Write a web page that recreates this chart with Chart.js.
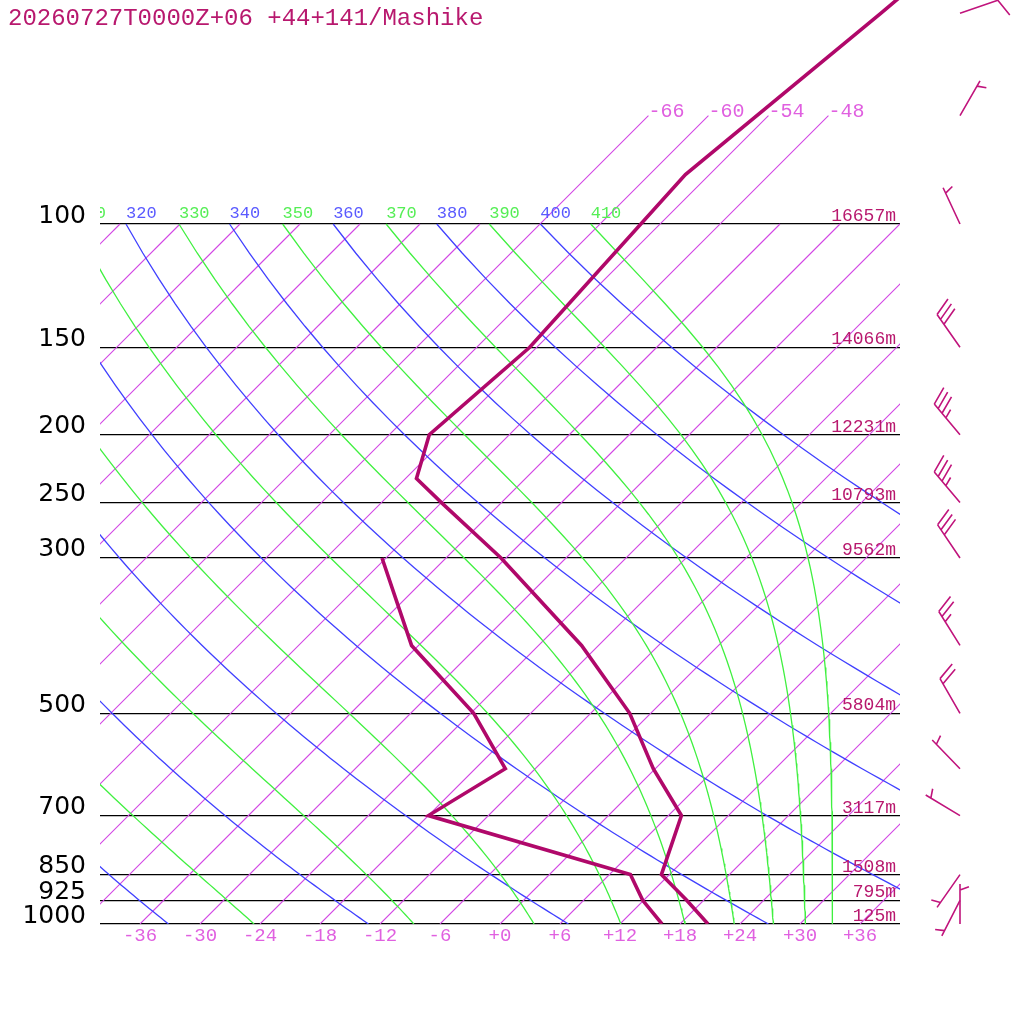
<!DOCTYPE html>
<html><head><meta charset="utf-8">
<script src="https://cdn.jsdelivr.net/npm/chart.js@4/dist/chart.umd.min.js"></script>
<style>html,body{margin:0;padding:0;background:#fff;overflow:hidden;} canvas{display:block;}</style>
</head><body>
<canvas id="c" width="1024" height="1024"></canvas>
<script>
// ---------------- data ----------------
const TITLE = '20260727T0000Z+06 +44+141/Mashike';
const TEMP_LEVELS = [1000, 925, 850, 700, 600, 500, 400, 300, 250, 231, 200, 150, 85, 50, 30];
const TEMPERATURE = [20.8, 16.3, 11.2, 7.3, -0.2, -8.1, -19.7, -36.5, -48.0, -52.9, -56.0, -54.7, -56.4, -53.0, -50.0];
const DEW_LEVELS = [1000, 925, 850, 700, 600, 500, 400, 300];
const DEWPOINT = [16.2, 11.9, 8.1, -18.0, -15.0, -23.7, -36.7, -48.4];
const WIND_LEVELS = [1000, 925, 850, 700, 600, 500, 400, 300, 250, 200, 150, 100, 70, 50];
const WIND_DIR = [0, 207, 215, 301, 316, 330, 328, 326, 320, 320, 325, 335, 30, 71];
const WIND_SPEED = [5, 5, 5, 5, 5, 20, 25, 30, 35, 35, 30, 5, 5, 10];
const PRESSURE_TICKS = [100, 150, 200, 250, 300, 500, 700, 850, 925, 1000];
const HEIGHT_LEVELS = [100, 150, 200, 250, 300, 500, 700, 850, 925, 1000];
const HEIGHTS = [16657, 14066, 12231, 10793, 9562, 5804, 3117, 1508, 795, 125];
const TEMP_TICKS = [-36, -30, -24, -18, -12, -6, 0, 6, 12, 18, 24, 30, 36];
const ISOTHERMS = [-108, -102, -96, -90, -84, -78, -72, -66, -60, -54, -48, -42, -36, -30, -24, -18, -12, -6, 0, 6, 12, 18, 24, 30, 36];
const UPPER_ISOTHERMS = [-66, -60, -54, -48];
const THETA = [220, 240, 260, 280, 300, 320, 340, 360, 380, 400];
const THETA_E = [250, 270, 290, 310, 330, 350, 370, 390, 410];

// ---------------- diagram geometry ----------------
const SKEW = 70;            // degC of skew per decade of pressure
const P_BOTTOM = 1000, P_TOP_GRID = 100, P_UPPER = 70;
const P_CANVAS_TOP = 1000 / Math.pow(10, 924 / 700);
const skewX = (T, p) => T + SKEW * Math.log10(1000 / p);

const COL_PROFILE = 'rgb(176,8,106)';
const COL_ISO = 'rgb(210,70,228)';
const COL_DRY = 'rgb(64,64,255)';
const COL_MOIST = 'rgb(64,240,64)';
const COL_TEXT = 'rgb(184,24,110)';
const COL_TICK = 'rgb(224,96,224)';

// reference-curve pressure grid
const P_GRID = [];
for (let p = 100; p <= 1000; p += 10) P_GRID.push(p);

function esat(Tc) { return 6.112 * Math.exp(17.67 * Tc / (Tc + 243.5)); }
function thetaESat(Tc, p) {
  const TK = Tc + 273.15, e = esat(Tc);
  if (e >= 0.5 * p) return Infinity;
  const r = 622 * e / (p - e);
  return TK * Math.pow(1000 / p, 0.2854 * (1 - 0.00028 * r)) * Math.exp((3.376 / TK - 0.00254) * r * (1 + 0.00081 * r));
}
function moistT(thE, p) {
  let lo = -170, hi = 60;
  for (let i = 0; i < 60; i++) {
    const mid = (lo + hi) / 2;
    if (thetaESat(mid, p) > thE) hi = mid; else lo = mid;
  }
  return (lo + hi) / 2;
}
function dryT(th, p) { return th * Math.pow(p / 1000, 0.2857) - 273.15; }

function lineSet(points, color, width) {
  return {
    type: 'line', data: points, parsing: false,
    borderColor: color, backgroundColor: color, borderWidth: width,
    pointRadius: 0, pointHoverRadius: 0, fill: false, tension: 0, showLine: true
  };
}

const datasets = [];
datasets.push(lineSet(TEMP_LEVELS.map((p, i) => ({x: skewX(TEMPERATURE[i], p), y: p})), COL_PROFILE, 3.6));
datasets.push(lineSet(DEW_LEVELS.map((p, i) => ({x: skewX(DEWPOINT[i], p), y: p})), COL_PROFILE, 3.6));
THETA_E.forEach(th => datasets.push(lineSet(P_GRID.map(p => ({x: skewX(moistT(th, p), p), y: p})), COL_MOIST, 1.3)));
THETA.forEach(th => datasets.push(lineSet(P_GRID.map(p => ({x: skewX(dryT(th, p), p), y: p})), COL_DRY, 1.3)));
ISOTHERMS.forEach(T => {
  const top = UPPER_ISOTHERMS.includes(T) ? P_UPPER : P_TOP_GRID;
  datasets.push(lineSet([{x: skewX(T, P_BOTTOM), y: P_BOTTOM}, {x: skewX(T, top), y: top}], COL_ISO, 1.1));
});

function drawBarb(ctx, x0, y0, dirDeg, spd) {
  const a = dirDeg * Math.PI / 180;
  const dx = Math.sin(a), dy = -Math.cos(a);
  const L = 40;
  const tx = x0 + dx * L, ty = y0 + dy * L;
  const fx = -dy, fy = dx;
  const ca = Math.cos(20 * Math.PI / 180), sa = Math.sin(20 * Math.PI / 180);
  ctx.beginPath();
  ctx.moveTo(x0, y0); ctx.lineTo(tx, ty);
  const n10 = Math.floor(spd / 10);
  const n5 = (spd - n10 * 10) >= 5 ? 1 : 0;
  let pos = 0;
  const FL = 19, SP = 6;
  for (let i = 0; i < n10; i++) {
    const sx = tx - dx * pos, sy = ty - dy * pos;
    ctx.moveTo(sx, sy);
    ctx.lineTo(sx + (fx * ca + dx * sa) * FL, sy + (fy * ca + dy * sa) * FL);
    pos += SP;
  }
  if (n5) {
    if (n10 === 0) pos = 6;
    const sx = tx - dx * pos, sy = ty - dy * pos;
    const hl = FL / 2;
    ctx.moveTo(sx, sy);
    ctx.lineTo(sx + (fx * ca + dx * sa) * hl, sy + (fy * ca + dy * sa) * hl);
  }
  ctx.stroke();
}

const overlay = {
  id: 'overlay',
  afterDraw(chart) {
    const {ctx, chartArea: ca, scales: {x, y}} = chart;
    ctx.save();
    ctx.font = '24px "Liberation Mono"';
    ctx.fillStyle = COL_TEXT; ctx.textAlign = 'left'; ctx.textBaseline = 'alphabetic';
    ctx.fillText(TITLE, 8, 25);

    ctx.save();
    ctx.beginPath(); ctx.rect(ca.left, 0, ca.right - ca.left, ca.bottom); ctx.clip();
    ctx.font = '17px "Liberation Mono"';
    const y100 = y.getPixelForValue(P_TOP_GRID) - 6;
    const labels = [];
    THETA.forEach(th => labels.push({th, T: dryT(th, P_TOP_GRID), c: 'rgb(90,90,255)'}));
    THETA_E.forEach(th => labels.push({th, T: moistT(th, P_TOP_GRID), c: 'rgb(85,238,85)'}));
    labels.forEach(l => {
      ctx.fillStyle = l.c;
      ctx.fillText(String(l.th), x.getPixelForValue(skewX(l.T, P_TOP_GRID)), y100);
    });
    ctx.restore();

    ctx.font = '20px "Liberation Mono"';
    ctx.fillStyle = COL_TICK; ctx.textAlign = 'left';
    UPPER_ISOTHERMS.forEach(T => {
      ctx.fillText(String(T), x.getPixelForValue(skewX(T, P_UPPER)), y.getPixelForValue(P_UPPER) + 1);
    });

    ctx.font = '18px "Liberation Mono"';
    ctx.fillStyle = COL_TEXT; ctx.textAlign = 'right';
    HEIGHT_LEVELS.forEach((p, i) => {
      ctx.fillText(HEIGHTS[i] + 'm', ca.right - 4, y.getPixelForValue(p) - 3);
    });

    ctx.strokeStyle = 'rgb(192,20,124)'; ctx.lineWidth = 1.6; ctx.lineCap = 'butt';
    WIND_LEVELS.forEach((p, i) => {
      drawBarb(ctx, ca.right + 60, y.getPixelForValue(p), WIND_DIR[i], WIND_SPEED[i]);
    });
    ctx.restore();
  }
};

new Chart(document.getElementById('c'), {
  type: 'line',
  data: {datasets},
  options: {
    responsive: false, animation: false, events: [],
    layout: {padding: {left: 0, right: 124, top: 0, bottom: 0}},
    plugins: {legend: {display: false}, tooltip: {enabled: false}, title: {display: false}},
    scales: {
      x: {
        type: 'linear', min: -40, max: 40, position: 'bottom',
        grid: {display: false, drawTicks: false}, border: {display: false},
        afterBuildTicks: s => { s.ticks = TEMP_TICKS.map(v => ({value: v})); },
        afterFit: s => { s.height = 100; s.paddingLeft = 0; s.paddingRight = 0; },
        ticks: {
          autoSkip: false, maxRotation: 0, padding: 1, color: COL_TICK,
          font: {family: '"Liberation Mono"', size: 19},
          callback: v => (v >= 0 ? '+' + v : String(v))
        }
      },
      y: {
        type: 'logarithmic', reverse: true, min: P_CANVAS_TOP, max: P_BOTTOM, position: 'left',
        grid: {display: true, drawTicks: false, color: '#000', lineWidth: 1.2}, border: {display: false},
        afterBuildTicks: s => { s.ticks = PRESSURE_TICKS.map(v => ({value: v})); },
        afterFit: s => { s.width = 100; s.paddingTop = 0; s.paddingBottom = 0; },
        ticks: {
          autoSkip: false, padding: 14, color: '#000', labelOffset: -8,
          font: {family: '"DejaVu Sans"', size: 25},
          callback: v => String(v)
        }
      }
    }
  },
  plugins: [overlay]
});
</script>
</body></html>
